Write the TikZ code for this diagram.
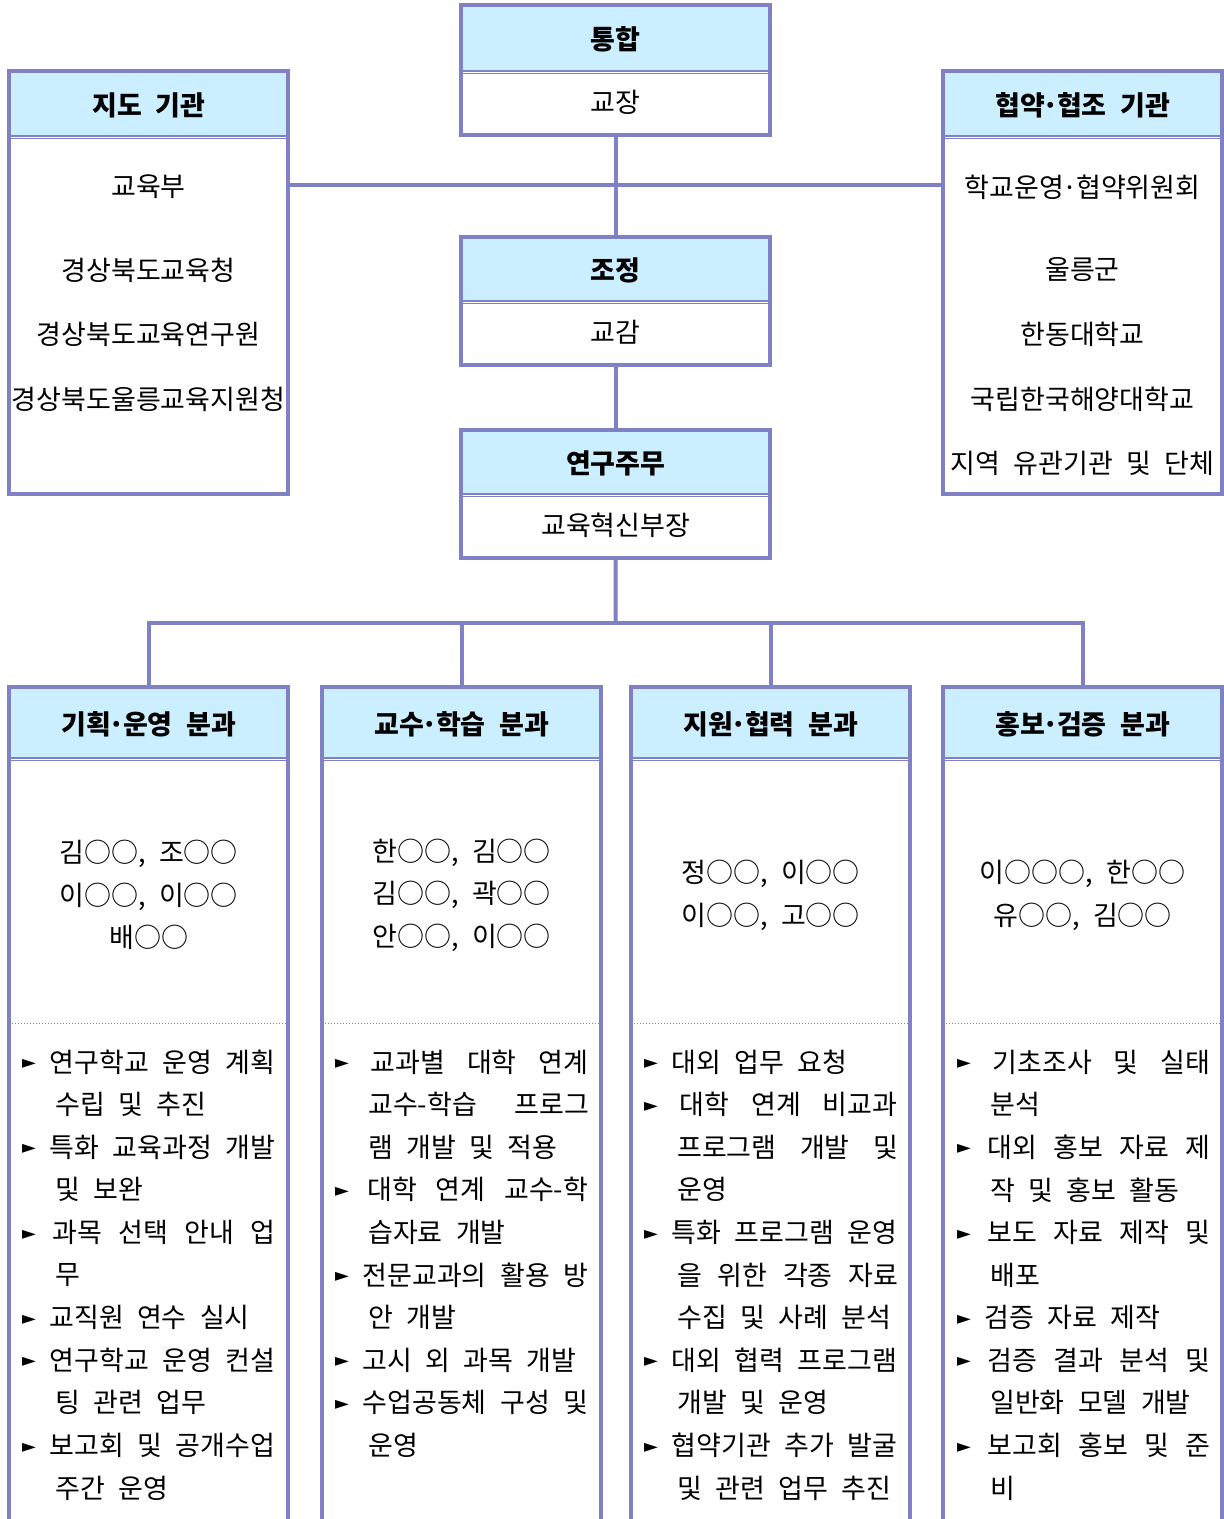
\documentclass[tikz,border=0pt]{standalone}
\usepackage{fontspec}
\setmainfont[WordSpace=2.2]{Noto Sans CJK KR}
\newfontfamily\symfont{DejaVu Sans}
\definecolor{boxline}{RGB}{128,128,196}
\definecolor{headfill}{RGB}{204,239,255}
\newcommand\bodyfont{\fontsize{27}{42.6}\selectfont}
\newcommand\mdot{\hbox to 0.45em{\hss·\hss}}
\newcommand\bul{\raisebox{3.5pt}{\symfont\fontsize{18}{18}\selectfont ►}}
\newcommand\bspread[1]{\makebox[253pt][s]{\bul\ #1}}
\newcommand\bplain[1]{\bul\ #1}
\newcommand\cspread[1]{\hspace*{33pt}\makebox[221pt][s]{#1}}
\newcommand\cplain[1]{\hspace*{33pt}#1}
\tikzset{
  frame/.style={draw=boxline,line width=4pt},
  conn/.style={draw=boxline,line width=4pt},
  sep/.style={draw=boxline,line width=1.5pt,double=white,double distance=1pt},
  dotsep/.style={draw=boxline,line width=1pt,dotted},
  head/.style={fill=headfill,inner sep=0pt,anchor=north west,font=\bodyfont\bfseries,
    text height=24pt,text depth=0pt},
  body/.style={inner sep=0pt,anchor=north west},
  txt/.style={inner sep=0pt},
}
\begin{document}
\begin{tikzpicture}[x=1pt,y=-1pt,font=\bodyfont,line join=miter]
\useasboundingbox (0,0) rectangle (1224,1519);
\clip (0,0) rectangle (1224,1519);
% upper boxes
\node[head,minimum width=309,minimum height=65] (tonghap) at (461,5) {통합};
\node[body,minimum width=309,minimum height=65] (gyojang) at (461,70) {교장};
\node[head,minimum width=279,minimum height=64] (jido) at (9,71) {지도 기관};
\node[body,minimum width=279,minimum height=359] (jidobody) at (9,135) {};
\node[head,minimum width=279,minimum height=64] (hyeop) at (943,71) {협약\mdot 협조 기관};
\node[body,minimum width=279,minimum height=359] (hyeopbody) at (943,135) {};
\node[head,minimum width=309,minimum height=63] (jojeong) at (461,237) {조정};
\node[body,minimum width=309,minimum height=65] (gyogam) at (461,300) {교감};
\node[head,minimum width=309,minimum height=63] (yeongu) at (461,430) {연구주무};
\node[body,minimum width=309,minimum height=65] (bujang) at (461,493) {교육혁신부장};
\node[txt] (gyoyukbu) at (148.5,187) {교육부};
\node[txt] (gbedu) at (148.5,270) {경상북도교육청};
\node[txt] (gbres) at (148.5,334) {경상북도교육연구원};
\node[txt] (ulsup) at (148.5,399) {경상북도울릉교육지원청};
\node[txt] (wiwon) at (1082.5,187) {학교운영\mdot 협약위원회};
\node[txt] (ulgun) at (1082.5,270) {울릉군};
\node[txt] (handong) at (1082.5,334) {한동대학교};
\node[txt] (haeyang) at (1082.5,399) {국립한국해양대학교};
\node[txt] (jiyeok) at (1082.5,463) {지역 유관기관 및 단체};
\foreach \n in {tonghap,jido,hyeop,jojeong,yeongu}
  \draw[sep] ([yshift=-2pt]\n.south west) -- ([yshift=-2pt]\n.south east);
\draw[frame] (tonghap.north west) rectangle (gyojang.south east);
\draw[frame] (jido.north west) rectangle (jidobody.south east);
\draw[frame] (hyeop.north west) rectangle (hyeopbody.south east);
\draw[frame] (jojeong.north west) rectangle (gyogam.south east);
\draw[frame] (yeongu.north west) rectangle (bujang.south east);
% connectors
\draw[conn] (jidobody.east |- 0,185) -- (hyeopbody.west |- 0,185);
\draw[conn] (gyojang.south) -- (jojeong.north);
\draw[conn] (gyogam.south) -- (yeongu.north);
\coordinate (bus) at (615.5,623);
\draw[conn] (bujang.south) -- (bus);
% lower boxes
\foreach \n/\x/\t in {gihoek/9/기획\mdot 운영 분과,gyosu/322/교수\mdot 학습 분과,jiwon/631/지원\mdot 협력 분과,hongbo/943/홍보\mdot 검증 분과}{
  \node[head,minimum width=279,minimum height=70] (\n) at (\x,687) {\t};
  \draw[sep] ([yshift=-2pt]\n.south west) -- ([yshift=-2pt]\n.south east);
  \draw[frame] (\n.south west |- 0,1530) -- (\n.north west) -- (\n.north east) -- (\n.south east |- 0,1530);
}
\draw[conn] (gihoek.north) |- (hongbo.north |- bus) -- (hongbo.north);
\draw[conn] (gyosu.north) -- (gyosu.north |- bus);
\draw[conn] (jiwon.north) -- (jiwon.north |- bus);
% members
\node[body,minimum width=279,minimum height=256,align=center] (gihoekmem) at (9,767) {김○○, 조○○\\이○○, 이○○\\배○○};
\node[body,minimum width=279,minimum height=256,align=center] (gyosumem) at (322,767) {한○○, 김○○\\김○○, 곽○○\\안○○, 이○○};
\node[body,minimum width=279,minimum height=256,align=center] (jiwonmem) at (631,767) {정○○, 이○○\\이○○, 고○○};
\node[body,minimum width=279,minimum height=256,align=center] (hongbomem) at (943,767) {이○○○, 한○○\\유○○, 김○○};
\foreach \n in {gihoekmem,gyosumem,jiwonmem,hongbomem}
  \draw[dotsep] (\n.south west) -- (\n.south east);
% tasks
\foreach \tx [count=\i from 0] in {{\bspread{연구학교 운영 계획}},{\cplain{수립 및 추진}},
  {\bspread{특화 교육과정 개발}},{\cplain{및 보완}},{\bspread{과목 선택 안내 업}},{\cplain{무}},
  {\bplain{교직원 연수 실시}},{\bspread{연구학교 운영 컨설}},{\cplain{팅 관련 업무}},
  {\bspread{보고회 및 공개수업}},{\cplain{주간 운영}}}
  \node[txt,anchor=west] (gihoek-\i) at (22,1062+42.6*\i) {\tx};
\foreach \tx [count=\i from 0] in {{\bspread{교과별 대학 연계}},{\cspread{교수-학습 프로그}},{\cplain{램 개발 및 적용}},
  {\bspread{대학 연계 교수-학}},{\cplain{습자료 개발}},{\bspread{전문교과의 활용 방}},{\cplain{안 개발}},
  {\bplain{고시 외 과목 개발}},{\bspread{수업공동체 구성 및}},{\cplain{운영}}}
  \node[txt,anchor=west] (gyosu-\i) at (335,1062+42.6*\i) {\tx};
\foreach \tx [count=\i from 0] in {{\bplain{대외 업무 요청}},{\bspread{대학 연계 비교과}},{\cspread{프로그램 개발 및}},{\cplain{운영}},
  {\bspread{특화 프로그램 운영}},{\cspread{을 위한 각종 자료}},{\cplain{수집 및 사례 분석}},
  {\bspread{대외 협력 프로그램}},{\cplain{개발 및 운영}},{\bspread{협약기관 추가 발굴}},{\cplain{및 관련 업무 추진}}}
  \node[txt,anchor=west] (jiwon-\i) at (644,1062+42.6*\i) {\tx};
\foreach \tx [count=\i from 0] in {{\bspread{기초조사 및 실태}},{\cplain{분석}},{\bspread{대외 홍보 자료 제}},{\cplain{작 및 홍보 활동}},
  {\bspread{보도 자료 제작 및}},{\cplain{배포}},{\bplain{검증 자료 제작}},
  {\bspread{검증 결과 분석 및}},{\cplain{일반화 모델 개발}},{\bspread{보고회 홍보 및 준}},{\cplain{비}}}
  \node[txt,anchor=west] (hongbo-\i) at (957,1062+42.6*\i) {\tx};
\end{tikzpicture}
\end{document}
